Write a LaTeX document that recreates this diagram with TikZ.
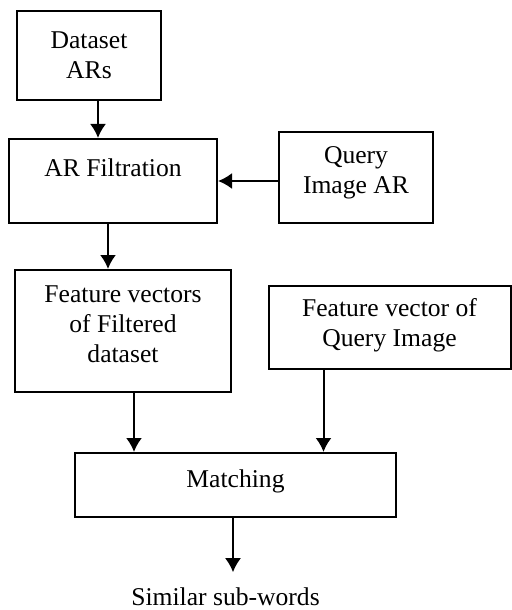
\documentclass[tikz,border=0pt]{standalone}
\usepackage{fontspec}
\setmainfont{Liberation Serif}
\usetikzlibrary{arrows.meta}

\begin{document}
\begin{tikzpicture}[
                        x=0.5pt, y=-0.5pt,
                        >={Latex[length=7pt,width=8pt]},
                        line width=1pt,
                        block/.style={rectangle, draw, align=center, inner sep=0pt, font=\fontsize{12.8pt}{15pt}\selectfont}
                    ]
                    \useasboundingbox (0,0) rectangle (512,610);
                    % Blocks
                    \node [block, minimum width=72pt, minimum height=44.5pt] (ds) at (89,55.5) {Dataset\\ARs};
                    \node [block, minimum width=104pt, minimum height=42pt, text depth=13pt] (arf) at (113,181) {AR Filtration};
                    \node [block, minimum width=77pt, minimum height=45.5pt, text depth=7pt] (qa) at (356,177.5) {Query\\Image AR};
                    \node [block, minimum width=108pt, minimum height=61pt, text depth=7pt] (fv) at (123,331) {Feature vectors\\of Filtered\\dataset};
                    \node [block, minimum width=121pt, minimum height=41.5pt, text depth=5pt] (fq) at (389.5,327.5) {Feature vector of\\Query Image};
                    \node [block, minimum width=160.5pt, minimum height=32pt, text depth=6pt] (m) at (235.5,485) {Matching};
                    \node [font=\fontsize{12.8pt}{15pt}\selectfont, inner xsep=0pt, inner ysep=7pt, anchor=base] (out) at (225.5,605) {Similar sub-words};

                    % Connections
                    \draw [->] ([xshift=4.5pt]ds.south) -- ([xshift=4.5pt]ds.south |- arf.north);
                    \draw [->] (qa.west |- arf.east) -- (arf.east);
                    \draw [->] ([xshift=-2.5pt]arf.south) -- ([xshift=-2.5pt]arf.south |- fv.north);
                    \draw [->] ([xshift=5.5pt]fv.south) -- ([xshift=5.5pt]fv.south |- m.north);
                    \draw [->] ([xshift=-33pt]fq.south) -- ([xshift=-33pt]fq.south |- m.north);
                    \draw [->] ([xshift=-1.25pt]m.south) -- ([xshift=-1.25pt]m.south |- out.north);
                \end{tikzpicture}
\end{document}
